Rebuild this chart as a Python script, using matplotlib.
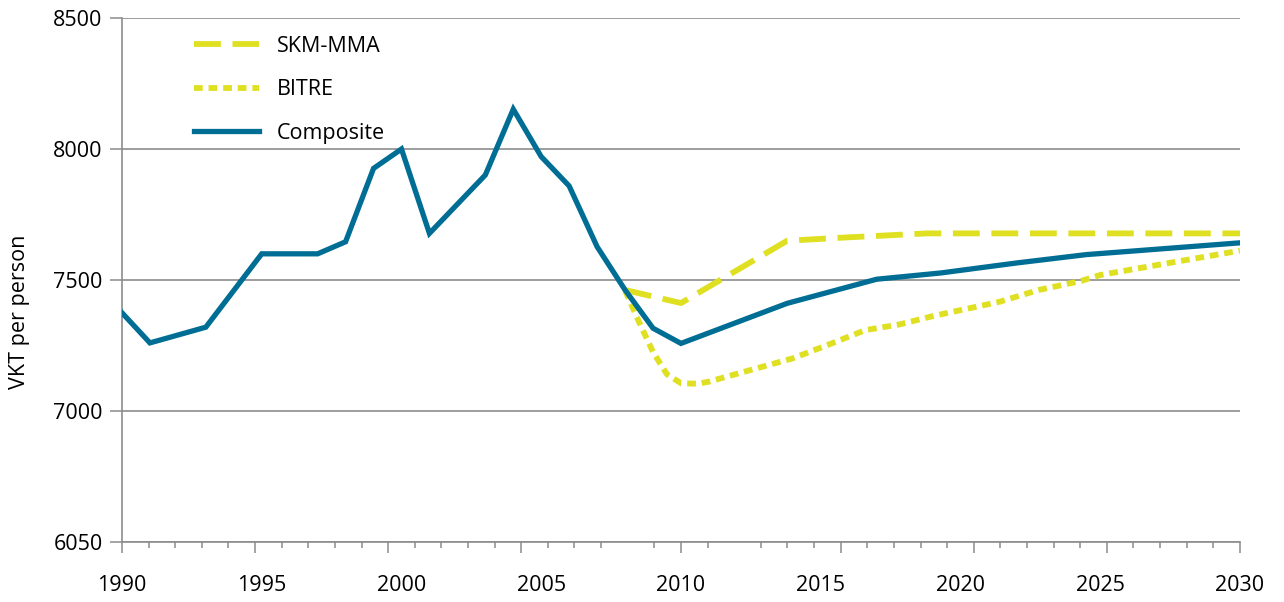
import numpy as np
import matplotlib
matplotlib.use("Agg")
import matplotlib.pyplot as plt

plt.rcParams["font.family"] = ["Open Sans", "DejaVu Sans"]

# Composite (historical + blended projection)
comp_years = [1990, 1991, 1993, 1995, 1997, 1998, 1999, 2000, 2001, 2003, 2004,
              2005, 2006, 2007, 2008, 2009, 2010, 2013.8, 2017, 2019.3, 2022, 2024.5, 2030]
comp_vals = [7375, 7260, 7320, 7600, 7600, 7646, 7926, 8000, 7678, 7901, 8152,
             7971, 7859, 7627, 7462, 7316, 7258, 7411, 7503, 7527, 7565, 7597, 7642]

# SKM-MMA projection
skm_years = [2008, 2010, 2013.8, 2016, 2018.8, 2022, 2026, 2030]
skm_vals = [7462, 7412, 7650, 7663, 7678, 7678, 7678, 7678]

# BITRE projection
bitre_years = [2008, 2008.5, 2009, 2009.5, 2010, 2010.6, 2011, 2012, 2014, 2015.2,
               2016.6, 2017.8, 2019, 2021.4, 2022.8, 2024.3, 2025, 2027.4, 2030]
bitre_vals = [7460, 7340, 7225, 7140, 7106, 7104, 7112, 7142, 7201, 7250,
              7309, 7330, 7362, 7417, 7462, 7496, 7519, 7564, 7612]

ytick_values = [6500, 7000, 7500, 8000, 8500]
ytick_labels = ["6050", "7000", "7500", "8000", "8500"]
year_labels = list(range(1990, 2031, 5))

YELLOW = "#dfe022"
BLUE = "#006e94"
GRID = "#8c8c8c"
FS = 15.5

fig = plt.figure(figsize=(12.84, 6.02), dpi=100)
ax = fig.add_axes([0.095, 0.0997, 0.8707, 0.8703])

ax.plot(skm_years, skm_vals, color=YELLOW, lw=4.2, dashes=(4.6, 2.0),
        solid_capstyle="butt", dash_capstyle="butt", label="SKM-MMA", zorder=3)
ax.plot(bitre_years, bitre_vals, color=YELLOW, lw=4.2, dashes=(1.5, 1.0),
        dash_capstyle="butt", label="BITRE", zorder=3)
ax.plot(comp_years, comp_vals, color=BLUE, lw=3.8, solid_joinstyle="miter",
        label="Composite", zorder=4)

ax.set_xlim(1990, 2030)
ax.set_ylim(6500, 8500)

# y axis
ax.set_yticks(ytick_values)
ax.set_yticklabels(ytick_labels)
ax.tick_params(axis="y", length=9, width=1.1, color=GRID, pad=5, labelsize=FS)
ax.grid(axis="y", color=GRID, lw=1.2)
ax.set_axisbelow(True)
ax.set_ylabel("VKT per person", fontsize=FS)
ax.yaxis.set_label_coords(-0.082, 0.44)

# x axis: tick marks on a 42-interval category grid, labels on real years
cat_pos = np.linspace(1990, 2030, 43)
long_idx = [0, 5, 10, 15, 21, 27, 32, 37, 42]
skip_idx = [19, 23]
ax.set_xticks([cat_pos[i] for i in long_idx])
ax.set_xticks([cat_pos[i] for i in range(43) if i not in long_idx and i not in skip_idx], minor=True)
ax.tick_params(axis="x", which="major", length=8, width=1.1, color=GRID, labelbottom=False)
ax.tick_params(axis="x", which="minor", length=4, width=1.1, color=GRID)

sec = ax.secondary_xaxis("bottom")
sec.set_xticks(year_labels)
sec.tick_params(length=0, pad=24, labelsize=FS)
sec.spines["bottom"].set_visible(False)

for side in ["top", "right"]:
    ax.spines[side].set_visible(False)
for side in ["left", "bottom"]:
    ax.spines[side].set_color(GRID)
    ax.spines[side].set_linewidth(1.2)

ax.legend(loc="upper left", bbox_to_anchor=(0.051, 0.995), frameon=False,
          fontsize=FS, handlelength=3.0, handletextpad=0.85, labelspacing=1.05,
          borderaxespad=0.3)

fig.savefig("out.png", dpi=100)
